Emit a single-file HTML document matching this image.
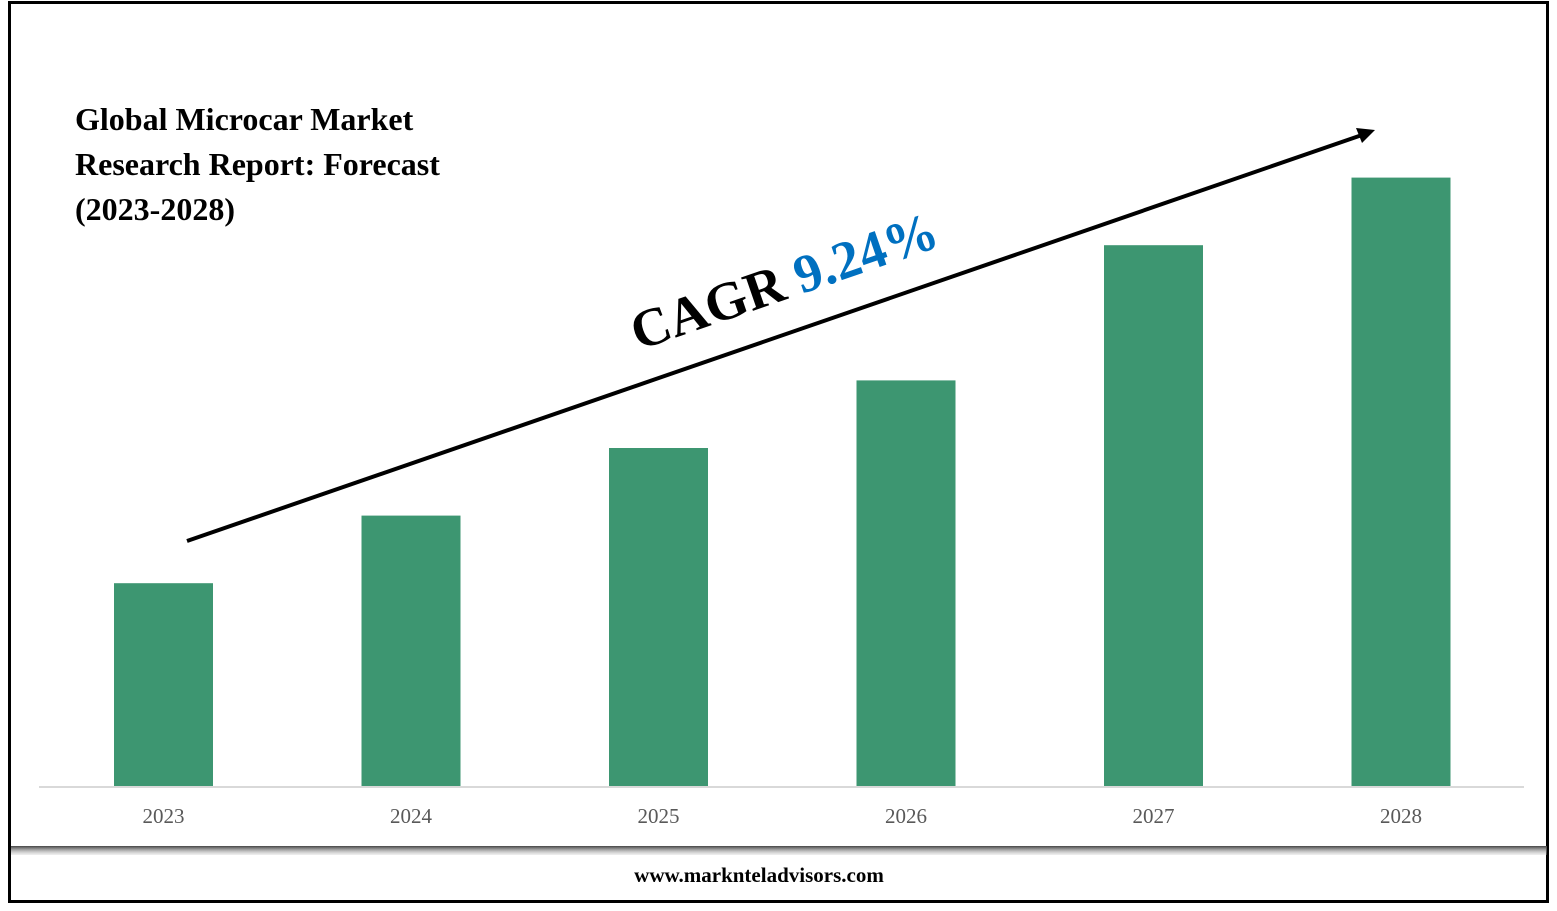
<!DOCTYPE html>
<html><head><meta charset="utf-8"><style>
body{margin:0;background:#fff;width:1557px;height:906px;overflow:hidden;font-family:"Liberation Serif",serif}
</style></head><body>
<svg width="1557" height="906">
<defs><linearGradient id="sh" x1="0" y1="0" x2="0" y2="1"><stop offset="0" stop-color="#444"/><stop offset="1" stop-color="#ccc" stop-opacity="0.3"/></linearGradient></defs>
<rect x="9.5" y="2.5" width="1538" height="899" fill="#fff" stroke="#000" stroke-width="3"/>
<rect x="11" y="846" width="1536" height="9" fill="url(#sh)"/>
<text x="75" y="130" font-size="32" font-weight="bold"><tspan x="75">Global Microcar Market</tspan><tspan x="75" dy="45">Research Report: Forecast</tspan><tspan x="75" dy="45">(2023-2028)</tspan></text>
<line x1="39" y1="787" x2="1524" y2="787" stroke="#d9d9d9" stroke-width="2"/>
<g id="bars"></g>
<line x1="187" y1="541" x2="1362" y2="135" stroke="#000" stroke-width="4"/>
<polygon points="1375,130 1356,128 1362,143" fill="#000"/>
<text transform="translate(790,298) rotate(-19.07)" text-anchor="middle" font-size="54" font-weight="bold">CAGR <tspan fill="#0070c0">9.24%</tspan></text>
<text x="759" y="882" text-anchor="middle" font-size="21" font-weight="bold">www.marknteladvisors.com</text>
</svg>
<script>
const categories=["2023","2024","2025","2026","2027","2028"];
const values=[3.0,4.0,5.0,6.0,8.0,9.0];
const base=786, pxPerUnit=67.6, x0=163.5, step=247.5, bw=99;
const y=v=>base-v*pxPerUnit;
const g=document.getElementById('bars');
const NS="http://www.w3.org/2000/svg";
categories.forEach((c,i)=>{
 const cx=x0+i*step;
 const r=document.createElementNS(NS,'rect');
 r.setAttribute('x',cx-bw/2);r.setAttribute('y',y(values[i]));
 r.setAttribute('width',bw);r.setAttribute('height',base-y(values[i]));
 r.setAttribute('fill','#3d9671');
 
 
 g.appendChild(r);
 const t=document.createElementNS(NS,'text');
 t.setAttribute('x',cx);t.setAttribute('y',823);t.setAttribute('text-anchor','middle');
 t.setAttribute('font-size','21');t.setAttribute('fill','#595959');
 t.textContent=c;
 
 
 g.appendChild(t);
});
</script>
</body></html>
